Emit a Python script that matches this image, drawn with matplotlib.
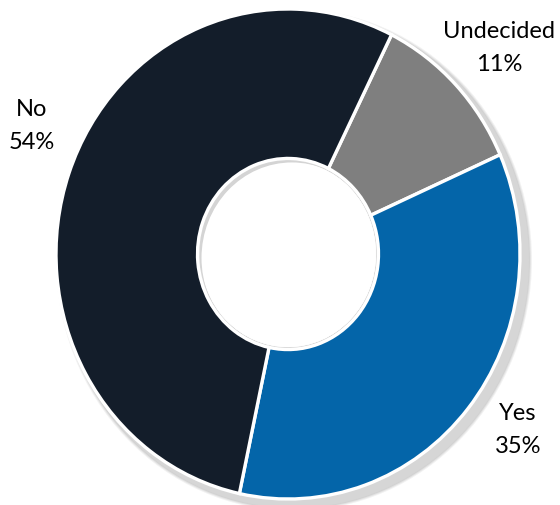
import matplotlib
matplotlib.use("Agg")
import matplotlib.pyplot as plt
from matplotlib.patches import Ellipse

labels = ["Undecided", "Yes", "No"]
values = [11, 35, 54]
colors = ["#7F7F7F", "#0465A9", "#131D2A"]

W, H = 560, 506
fig = plt.figure(figsize=(W / 100, H / 100), dpi=100)
ax = fig.add_axes([0, 0, 1, 1])

# pixel geometry
cx, cy = 288, 255          # centre in pixels (from top)
rx, ry = 232, 245          # outer radii in pixels
hole = 0.39

def px(x, y):
    return ((x - cx) / rx, (cy - y) / ry)

# outer soft shadow (down-right)
sx, sy = 6, 6
for grow, col, al in [(6, "#000000", 0.05), (5, "#000000", 0.06), (4, "#000000", 0.07),
                      (3, "#d6d6d6", 1.0)]:
    e = Ellipse((sx / rx, -sy / ry), 2 * (1 + grow / rx), 2 * (1 + grow / ry),
                facecolor=col, edgecolor="none", alpha=al, zorder=0)
    ax.add_patch(e)

wedges, _ = ax.pie(values, colors=colors, startangle=63.5, counterclock=False,
                   radius=1, center=(0, 0),
                   wedgeprops=dict(width=1 - hole, edgecolor="white", linewidth=2.4),
                   normalize=True)
for w in wedges:
    w.set_zorder(2)

# inner shadow in the hole (top-left)
hole_clip = Ellipse((0, 0), 2 * hole - 5 / rx, 2 * hole - 5 / ry, facecolor="#d4d4d4",
                    edgecolor="none", zorder=3)
ax.add_patch(hole_clip)
for i in range(10):
    off = 9 - i * 0.5
    e = Ellipse((off / rx, -off / ry), 2 * hole, 2 * hole,
                facecolor="white", edgecolor="none", alpha=0.3, zorder=4)
    e.set_clip_path(hole_clip)
    ax.add_patch(e)
e = Ellipse((4 / rx, -4 / ry), 2 * hole, 2 * hole,
            facecolor="white", edgecolor="none", zorder=5)
e.set_clip_path(hole_clip)
ax.add_patch(e)

ax.set_xlim(-cx / rx, (W - cx) / rx)
ax.set_ylim(-(H - cy) / ry, cy / ry)
ax.set_aspect("auto")
ax.axis("off")

label_pos = {"Undecided": (499, 48), "Yes": (518, 430), "No": (32, 126)}
for lab, v in zip(labels, values):
    x, y = px(*label_pos[lab])
    ax.text(x, y, f"{lab}\n{v}%", ha="center", va="center", fontsize=17,
            family="Lato", color="#000000", linespacing=1.7, zorder=6)

fig.savefig("out.png", dpi=100, facecolor="white")
